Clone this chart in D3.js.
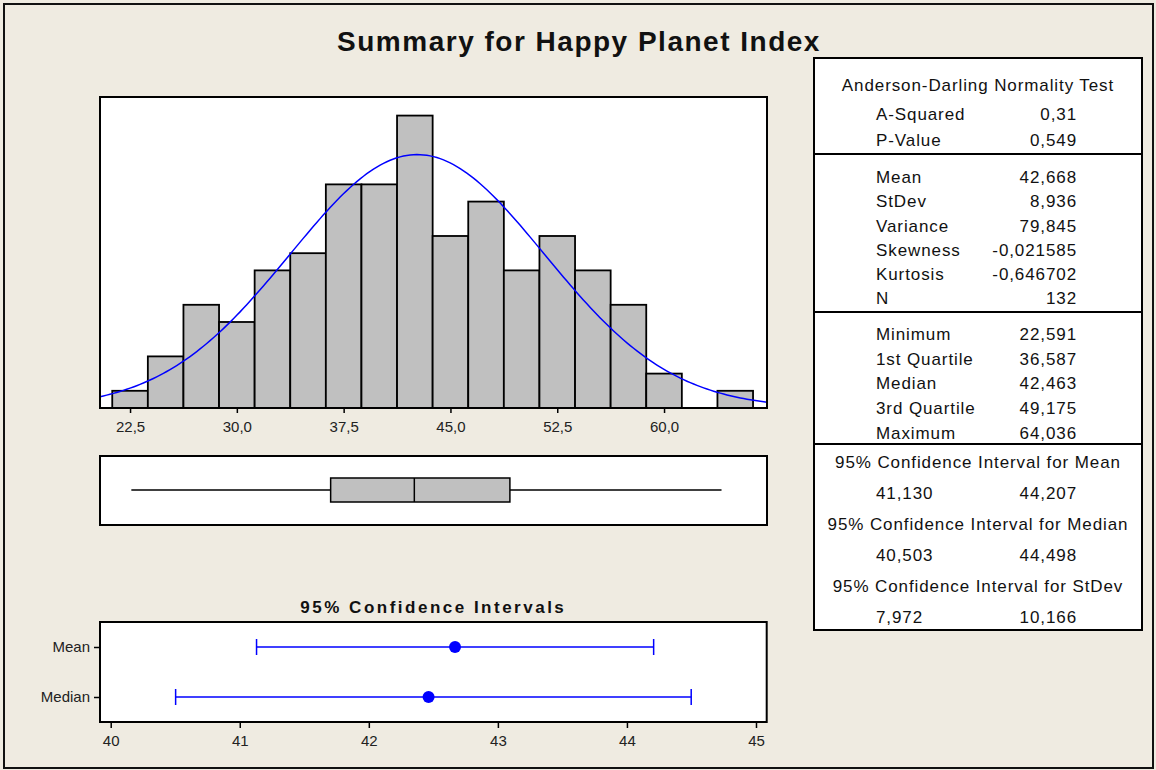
<!DOCTYPE html>
<html>
<head>
<meta charset="utf-8">
<script src="https://cdn.jsdelivr.net/npm/d3@7"></script>
<style>
  body { margin: 0; background: #efebe1; }
  svg { display: block; font-family: "Liberation Sans", Arial, sans-serif; }
</style>
</head>
<body>
<svg id="chart" width="1156" height="770"></svg>
<script>
// histogram bins (mid points, width 2.5) and counts
const binMids = [22.5, 25, 27.5, 30, 32.5, 35, 37.5, 40, 42.5, 45, 47.5, 50, 52.5, 55, 57.5, 60, 62.5, 65];
const binCounts = [1, 3, 6, 5, 8, 9, 13, 13, 17, 10, 12, 8, 10, 8, 6, 2, 0, 1];
const binWidth = 2.5;
const histTicks = [22.5, 30, 37.5, 45, 52.5, 60];

// stats table
const adLabels = ["A-Squared", "P-Value"];
const adValues = [0.31, 0.549];
const adDecimals = [2, 3];
const momentLabels = ["Mean", "StDev", "Variance", "Skewness", "Kurtosis", "N"];
const momentValues = [42.668, 8.936, 79.845, -0.021585, -0.646702, 132];
const momentDecimals = [3, 3, 3, 6, 6, 0];
const quartileLabels = ["Minimum", "1st Quartile", "Median", "3rd Quartile", "Maximum"];
const quartileValues = [22.591, 36.587, 42.463, 49.175, 64.036];
const ciNames = ["Mean", "Median", "StDev"];
const ciLower = [41.130, 40.503, 7.972];
const ciUpper = [44.207, 44.498, 10.166];
const ciTicks = [40, 41, 42, 43, 44, 45];

const fmt = (v, d) => v.toFixed(d).replace(".", ",");
const mean = momentValues[0], sd = momentValues[1], n = momentValues[5];

const svg = d3.select("#chart");

// outer frame
svg.append("rect").attr("x", 4).attr("y", 4).attr("width", 1149).attr("height", 764)
  .attr("fill", "#efebe1").attr("stroke", "#111").attr("stroke-width", 2);

svg.append("text").attr("x", 579).attr("y", 51).attr("text-anchor", "middle")
  .attr("font-size", 28).attr("font-weight", "bold").attr("letter-spacing", 1.5)
  .attr("fill", "#111").text("Summary for Happy Planet Index");

// ---------- histogram ----------
const hp = { left: 100, right: 767, top: 97, bottom: 408 };
const x = d3.scaleLinear().domain([20.39, 67.23]).range([hp.left, hp.right]);
const y = d3.scaleLinear().domain([0, 18.08]).range([hp.bottom, hp.top]);

svg.append("rect").attr("x", hp.left).attr("y", hp.top)
  .attr("width", hp.right - hp.left).attr("height", hp.bottom - hp.top)
  .attr("fill", "#fff");

const bins = binMids.map((m, i) => ({ mid: m, count: binCounts[i] })).filter(d => d.count > 0);
svg.append("g").selectAll("rect").data(bins).join("rect")
  .attr("x", d => x(d.mid - binWidth / 2))
  .attr("y", d => y(d.count))
  .attr("width", d => x(d.mid + binWidth / 2) - x(d.mid - binWidth / 2))
  .attr("height", d => y(0) - y(d.count))
  .attr("fill", "#c0c0c0").attr("stroke", "#000").attr("stroke-width", 1.8);

// fitted normal curve
const curveX = d3.range(0, 201).map(i => x.domain()[0] + i * (x.domain()[1] - x.domain()[0]) / 200);
const pdf = v => Math.exp(-0.5 * ((v - mean) / sd) ** 2) / (sd * Math.sqrt(2 * Math.PI));
svg.append("path")
  .datum(curveX)
  .attr("fill", "none").attr("stroke", "#0000ff").attr("stroke-width", 1.5)
  .attr("d", d3.line().x(v => x(v)).y(v => y(n * binWidth * pdf(v))));

svg.append("rect").attr("x", hp.left).attr("y", hp.top)
  .attr("width", hp.right - hp.left).attr("height", hp.bottom - hp.top)
  .attr("fill", "none").attr("stroke", "#000").attr("stroke-width", 2);

const hAxis = svg.append("g").attr("transform", `translate(0,${hp.bottom})`)
  .call(d3.axisBottom(x).tickValues(histTicks).tickFormat(d => fmt(d, 1)).tickSize(5).tickPadding(8));
hAxis.select(".domain").remove();
hAxis.selectAll("line").attr("stroke", "#000").attr("stroke-width", 1.5);
hAxis.selectAll("text").attr("font-size", 15).attr("fill", "#222").attr("font-family", "Liberation Sans, Arial, sans-serif");

// ---------- boxplot ----------
const bp = { top: 456, bottom: 525, mid: 490, half: 12 };
svg.append("rect").attr("x", hp.left).attr("y", bp.top)
  .attr("width", hp.right - hp.left).attr("height", bp.bottom - bp.top)
  .attr("fill", "#fff").attr("stroke", "#000").attr("stroke-width", 2);
const [qMin, q1, qMed, q3, qMax] = quartileValues;
svg.append("line").attr("x1", x(qMin)).attr("x2", x(q1)).attr("y1", bp.mid).attr("y2", bp.mid)
  .attr("stroke", "#000").attr("stroke-width", 1.5);
svg.append("line").attr("x1", x(q3)).attr("x2", x(qMax)).attr("y1", bp.mid).attr("y2", bp.mid)
  .attr("stroke", "#000").attr("stroke-width", 1.5);
svg.append("rect").attr("x", x(q1)).attr("y", bp.mid - bp.half)
  .attr("width", x(q3) - x(q1)).attr("height", bp.half * 2)
  .attr("fill", "#c0c0c0").attr("stroke", "#000").attr("stroke-width", 1.5);
svg.append("line").attr("x1", x(qMed)).attr("x2", x(qMed))
  .attr("y1", bp.mid - bp.half).attr("y2", bp.mid + bp.half)
  .attr("stroke", "#000").attr("stroke-width", 1.5);

// ---------- confidence intervals ----------
const cp = { left: 100, right: 766.7, top: 622, bottom: 722 };
const cx = d3.scaleLinear().domain([39.917, 45.083]).range([cp.left, cp.right]);
const cy = d3.scalePoint().domain(ciNames.slice(0, 2)).range([cp.top, cp.bottom]).padding(0.5);
const ciPoint = [mean, qMed];

svg.append("text").attr("x", (cp.left + cp.right) / 2).attr("y", 613).attr("text-anchor", "middle")
  .attr("font-size", 17).attr("font-weight", "bold").attr("letter-spacing", 2.5)
  .attr("fill", "#111").text("95% Confidence Intervals");

svg.append("rect").attr("x", cp.left).attr("y", cp.top)
  .attr("width", cp.right - cp.left).attr("height", cp.bottom - cp.top)
  .attr("fill", "#fff").attr("stroke", "#000").attr("stroke-width", 2);

const ciRows = ciNames.slice(0, 2).map((nm, i) => ({ name: nm, lo: ciLower[i], hi: ciUpper[i], pt: ciPoint[i] }));
const ci = svg.append("g").selectAll("g").data(ciRows).join("g");
ci.append("line").attr("x1", d => cx(d.lo)).attr("x2", d => cx(d.hi))
  .attr("y1", d => cy(d.name)).attr("y2", d => cy(d.name))
  .attr("stroke", "#0000ff").attr("stroke-width", 1.5);
ci.append("line").attr("x1", d => cx(d.lo)).attr("x2", d => cx(d.lo))
  .attr("y1", d => cy(d.name) - 8).attr("y2", d => cy(d.name) + 8)
  .attr("stroke", "#0000ff").attr("stroke-width", 1.5);
ci.append("line").attr("x1", d => cx(d.hi)).attr("x2", d => cx(d.hi))
  .attr("y1", d => cy(d.name) - 8).attr("y2", d => cy(d.name) + 8)
  .attr("stroke", "#0000ff").attr("stroke-width", 1.5);
ci.append("circle").attr("cx", d => cx(d.pt)).attr("cy", d => cy(d.name)).attr("r", 6)
  .attr("fill", "#0000ff");

const cxAxis = svg.append("g").attr("transform", `translate(0,${cp.bottom})`)
  .call(d3.axisBottom(cx).tickValues(ciTicks).tickFormat(d3.format("d")).tickSize(6).tickPadding(7));
const cyAxis = svg.append("g").attr("transform", `translate(${cp.left},0)`)
  .call(d3.axisLeft(cy).tickSize(6).tickPadding(4));
[cxAxis, cyAxis].forEach(a => {
  a.select(".domain").remove();
  a.selectAll("line").attr("stroke", "#000").attr("stroke-width", 1.5);
  a.selectAll("text").attr("font-size", 15).attr("fill", "#222").attr("font-family", "Liberation Sans, Arial, sans-serif");
});

// ---------- stats table ----------
const tb = { left: 814, right: 1142, top: 58, bottom: 630, labelX: 876, valueX: 1077 };
const table = svg.append("g").attr("font-size", 17).attr("letter-spacing", 0.9).attr("fill", "#111");
table.append("rect").attr("x", tb.left).attr("y", tb.top)
  .attr("width", tb.right - tb.left).attr("height", tb.bottom - tb.top)
  .attr("fill", "#fff").attr("stroke", "#000").attr("stroke-width", 2);
[154, 312, 444].forEach(yy => table.append("line")
  .attr("x1", tb.left).attr("x2", tb.right).attr("y1", yy).attr("y2", yy)
  .attr("stroke", "#000").attr("stroke-width", 2));

const midX = (tb.left + tb.right) / 2;
function row(label, value, yy) {
  table.append("text").attr("x", tb.labelX).attr("y", yy).attr("dy", "0.35em").text(label);
  table.append("text").attr("x", tb.valueX).attr("y", yy).attr("dy", "0.35em")
    .attr("text-anchor", "end").text(value);
}
function header(label, yy) {
  table.append("text").attr("x", midX).attr("y", yy).attr("dy", "0.35em")
    .attr("text-anchor", "middle").text(label);
}

header("Anderson-Darling Normality Test", 85);
adLabels.forEach((l, i) => row(l, fmt(adValues[i], adDecimals[i]), 114 + i * 26));
momentLabels.forEach((l, i) => row(l, fmt(momentValues[i], momentDecimals[i]), 177 + i * 24.3));
quartileLabels.forEach((l, i) => row(l, fmt(quartileValues[i], 3), 334 + i * 24.7));
ciNames.forEach((nm, i) => {
  const yy = 462 + i * 62;
  header(`95% Confidence Interval for ${nm}`, yy);
  row(fmt(ciLower[i], 3), fmt(ciUpper[i], 3), yy + 31);
});
</script>
</body>
</html>
